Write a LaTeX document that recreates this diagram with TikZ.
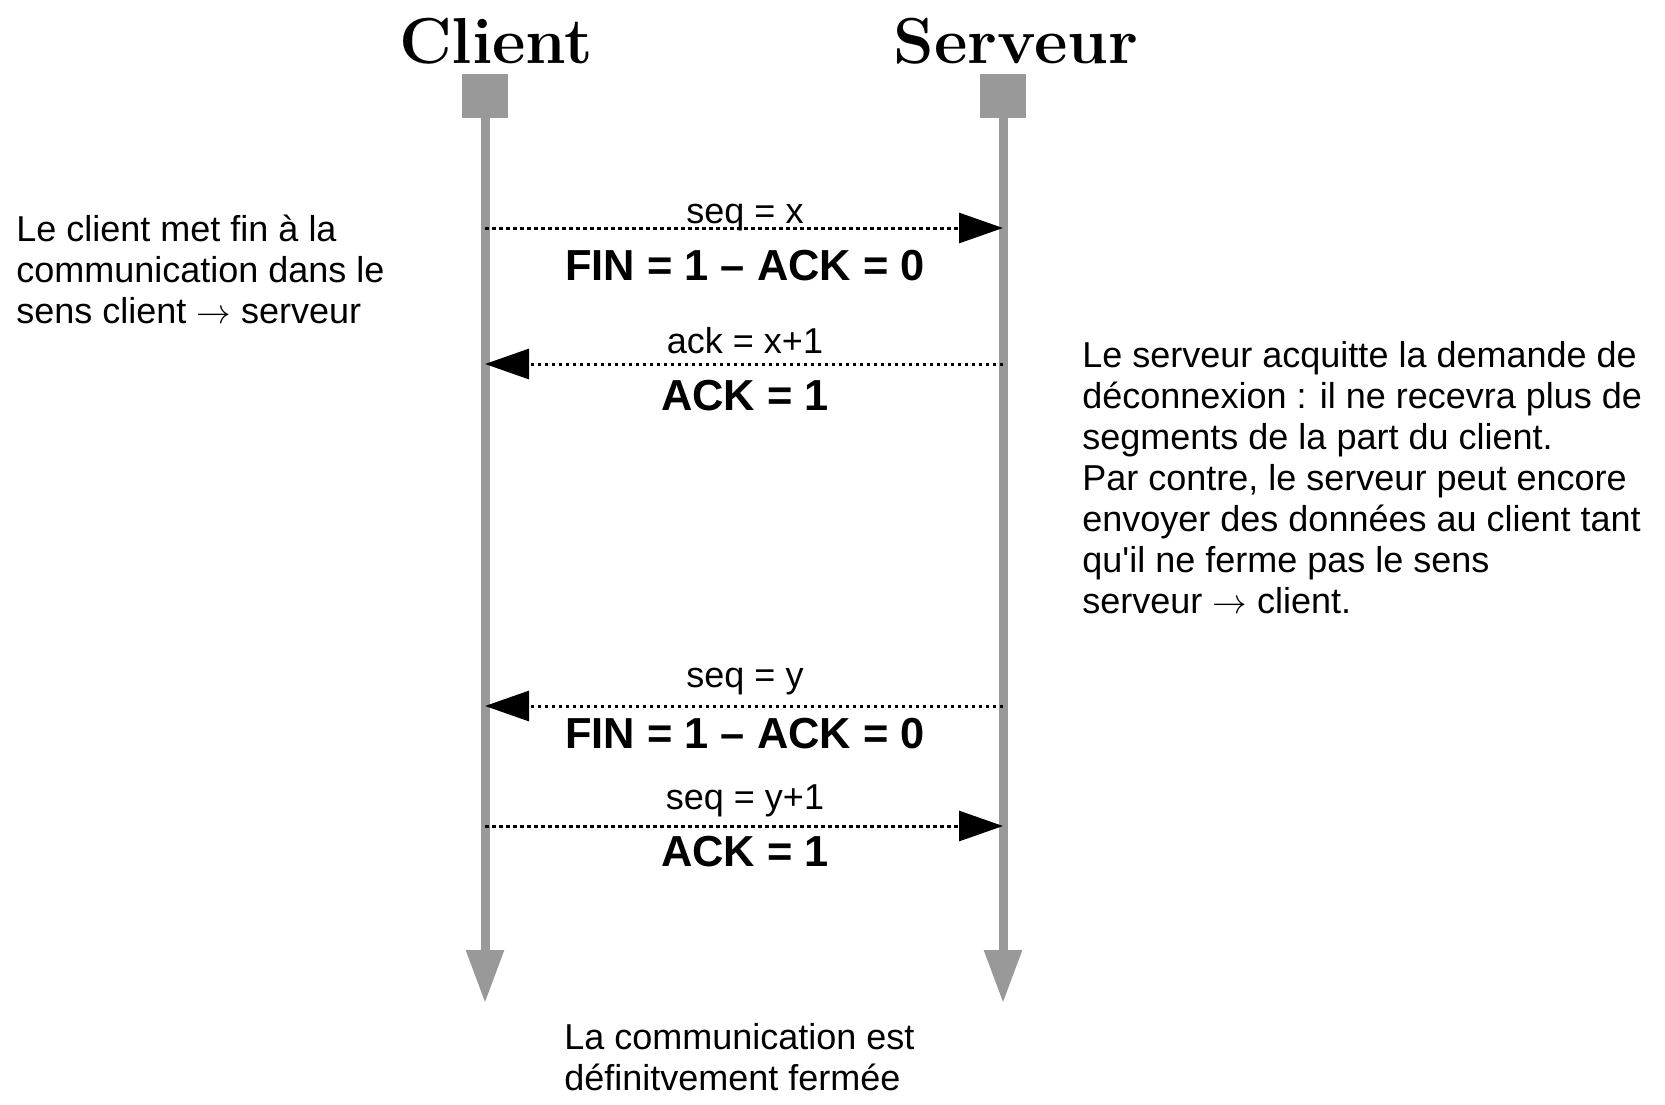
\documentclass[tikz,border=0pt]{standalone}
\usepackage{fontspec}
\usetikzlibrary{arrows.meta}
\newfontfamily\lab{Liberation Sans}
\definecolor{lgray}{RGB}{153,153,153}
\begin{document}
\begin{tikzpicture}[x=0.5pt,y=-0.5pt,
  life/.style={line width=4.5pt, draw=lgray, -{Triangle[length=26.5pt,width=18pt]}},
  box/.style={fill=lgray, minimum width=23pt, minimum height=22pt, inner sep=0pt},
  msg/.style={draw=black, line width=1.5pt, dash pattern=on 1.75pt off 1.75pt, -{Triangle[length=22pt,width=15pt]}},
  small/.style={font=\lab\fontsize{18}{20}\selectfont, anchor=base, inner sep=0pt},
  big/.style={font=\lab\bfseries\fontsize{21.7}{24}\selectfont, anchor=base, inner sep=0pt},
  note/.style={font=\lab\fontsize{18}{20.5}\selectfont, align=left, anchor=north west, inner sep=0pt},
  ttl/.style={font=\bfseries\fontsize{32.5}{36}\selectfont, anchor=base, inner sep=0pt}]
\useasboundingbox (0,0) rectangle (1665,1104);

% titles
\node[ttl] (tc) at (496,63) {Client};
\node[ttl] (ts) at (1016,63) {Serveur};

% lifelines
\node[box] (cl) at (485,96) {};
\node[box] (sv) at (1003,96) {};
\coordinate (clend) at (485,1003);
\coordinate (svend) at (1003,1003);
\draw[life] (cl.south) -- (clend);
\draw[life] (sv.south) -- (svend);

% message end points
\coordinate (c1) at (485,228);  \coordinate (s1) at (1003,228);
\coordinate (c2) at (485,364);  \coordinate (s2) at (1003,364);
\coordinate (c3) at (485,706);  \coordinate (s3) at (1003,706);
\coordinate (c4) at (485,826);  \coordinate (s4) at (1003,826);

\draw[msg] (c1) -- (s1);
\draw[msg] (s2) -- (c2);
\draw[msg] (s3) -- (c3);
\draw[msg] (c4) -- (s4);

% labels
\node[small] (m1a) at (745,223) {seq = x};
\node[big]   (m1b) at (745,280) {FIN = 1 – ACK = 0};
\node[small] (m2a) at (745,353) {ack = x+1};
\node[big]   (m2b) at (745,410) {ACK = 1};
\node[small] (m3a) at (745,687) {seq = y};
\node[big]   (m3b) at (745,748) {FIN = 1 – ACK = 0};
\node[small] (m4a) at (745,809) {seq = y+1};
\node[big]   (m4b) at (745,866) {ACK = 1};

% notes
\node[note] (nl) at (16,215) {Le client met fin à la\\communication dans le\\sens client $\rightarrow$ serveur};
\node[note] (nr) at (1082,341) {Le serveur acquitte la demande de\\déconnexion : il ne recevra plus de\\segments de la part du client.\\Par contre, le serveur peut encore\\envoyer des données au client tant\\qu\textquotesingle il ne ferme pas le sens\\serveur $\rightarrow$ client.};
\node[note] (nb) at (564,1023) {La communication est\\définitvement fermée};
\end{tikzpicture}
\end{document}
